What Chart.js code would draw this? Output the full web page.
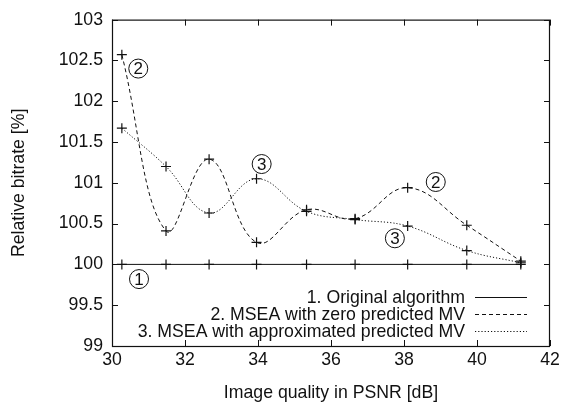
<!DOCTYPE html>
<html>
<head>
<meta charset="utf-8">
<script src="https://cdn.jsdelivr.net/npm/chart.js@4"></script>
<style>
  html, body { margin: 0; padding: 0; background: #fff; }
  #wrap { width: 564px; height: 404px; }
</style>
</head>
<body>
<div id="wrap"><canvas id="showGraphBitrate" width="564" height="404"></canvas></div>
<script>
// PSNR points (dB)
var psnr = [30.27, 31.48, 32.66, 33.96, 35.33, 36.66, 38.10, 39.72, 41.20];
// relative bitrate per series (%)
var original = [100, 100, 100, 100, 100, 100, 100, 100, 100];
var zeroMV = [102.57, 100.41, 101.29, 100.27, 100.67, 100.56, 100.94, 100.48, 100.04];
var approxMV = [101.67, 101.20, 100.63, 101.05, 100.65, 100.55, 100.47, 100.17, 100.02];
var seriesNames = ['1. Original algorithm', '2. MSEA with zero predicted MV', '3. MSEA with approximated predicted MV'];
// circled curve labels
var markX = [30.74, 30.72, 34.10, 38.87, 37.75];
var markY = [99.82, 102.40, 101.23, 101.01, 100.32];
var markText = ['1', '2', '3', '2', '3'];

var font = 'Liberation Sans, Arial, Helvetica, sans-serif';
var ink = '#111';
var fs = 17.7;

function toPoints(ys) {
    return psnr.map(function (x, i) { return { x: x, y: ys[i] }; });
}

var dashes = [[], [4, 3], [1.2, 2]];

var datasets = [original, zeroMV, approxMV].map(function (ys, i) {
    return {
        label: seriesNames[i],
        data: toPoints(ys),
        borderColor: ink,
        backgroundColor: ink,
        borderWidth: 1,
        borderDash: dashes[i],
        tension: i === 0 ? 0 : 0.4,
        pointStyle: 'cross',
        pointRadius: 5,
        pointBorderWidth: 1.2,
        pointBorderColor: ink,
        fill: false
    };
});

// gnuplot-like frame, inward ticks, legend box and circled labels
var gnuplotLook = {
    id: 'gnuplotLook',
    afterDatasetsDraw: function (chart) {
        var ctx = chart.ctx;
        var a = chart.chartArea;
        var xs = chart.scales.x, ys = chart.scales.y;
        ctx.save();
        ctx.strokeStyle = ink;
        ctx.lineWidth = 1.2;
        ctx.setLineDash([]);
        ctx.strokeRect(a.left + 0.5, a.top + 0.5, a.right - a.left - 1, a.bottom - a.top);
        ctx.lineWidth = 1;
        ctx.beginPath();
        xs.ticks.forEach(function (t) {
            var px = Math.round(xs.getPixelForValue(t.value)) + 0.5;
            ctx.moveTo(px, a.bottom); ctx.lineTo(px, a.bottom - 6);
            ctx.moveTo(px, a.top); ctx.lineTo(px, a.top + 6);
        });
        ys.ticks.forEach(function (t) {
            var py = Math.round(ys.getPixelForValue(t.value)) + 0.5;
            ctx.moveTo(a.left, py); ctx.lineTo(a.left + 6, py);
            ctx.moveTo(a.right, py); ctx.lineTo(a.right - 6, py);
        });
        ctx.stroke();

        // legend
        ctx.font = fs + 'px ' + font;
        ctx.fillStyle = ink;
        ctx.textAlign = 'right';
        ctx.textBaseline = 'middle';
        chart.data.datasets.forEach(function (ds, i) {
            var y = a.bottom - 49 + i * 17;
            ctx.fillText(ds.label, a.right - 85, y + 1);
            ctx.setLineDash(ds.borderDash);
            ctx.beginPath();
            ctx.moveTo(a.right - 75, y + 0.5);
            ctx.lineTo(a.right - 23, y + 0.5);
            ctx.stroke();
        });
        ctx.setLineDash([]);

        // circled numbers
        ctx.textAlign = 'center';
        ctx.font = '17px ' + font;
        markText.forEach(function (txt, i) {
            var cx = xs.getPixelForValue(markX[i]);
            var cy = ys.getPixelForValue(markY[i]);
            ctx.beginPath();
            ctx.arc(cx, cy, 9.5, 0, Math.PI * 2);
            ctx.stroke();
            ctx.fillText(txt, cx, cy + 1);
        });
        ctx.restore();
    }
};

var config = {
    type: 'line',
    data: { datasets: datasets },
    options: {
        responsive: false,
        animation: false,
        layout: { padding: { top: 15, right: 14, left: 0, bottom: 0 } },
        plugins: { legend: { display: false }, tooltip: { enabled: false } },
        scales: {
            x: {
                type: 'linear',
                min: 30, max: 42,
                grid: { display: false, drawTicks: false },
                border: { display: false },
                ticks: { stepSize: 2, padding: 3, color: ink, font: { family: font, size: fs } },
                title: { display: true, text: 'Image quality in PSNR [dB]', color: ink, padding: { top: 4, bottom: 0 }, font: { family: font, size: fs } },
                afterFit: function (s) { s.height = 58; }
            },
            y: {
                type: 'linear',
                min: 99, max: 103,
                grid: { display: false, drawTicks: false },
                border: { display: false },
                ticks: {
                    stepSize: 0.5, padding: 9, color: ink, font: { family: font, size: fs },
                    callback: function (v) { return String(Number(v)); }
                },
                title: { display: true, text: 'Relative bitrate [%]', color: ink, padding: { top: 8, bottom: 10 }, font: { family: font, size: fs } },
                afterFit: function (s) { s.width = 112; }
            }
        }
    },
    plugins: [gnuplotLook]
};

var myChartBitrate = new Chart(document.querySelector('#showGraphBitrate').getContext('2d'), config);
</script>
</body>
</html>
